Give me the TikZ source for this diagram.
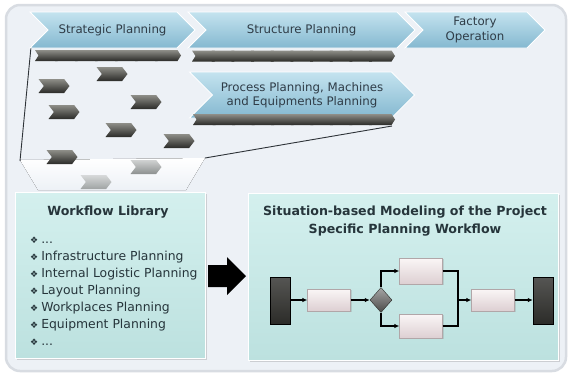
\documentclass[tikz,border=0pt]{standalone}
\usepackage{fontspec}
\setmainfont{DejaVu Sans}
\usetikzlibrary{shapes.symbols,shapes.geometric,shadows,arrows.meta}
\definecolor{panel}{HTML}{EDF1F6}
\definecolor{rim}{HTML}{D8DCE2}
\definecolor{chevtop}{HTML}{C4E3EF}
\definecolor{chevbot}{HTML}{84B8D0}
\definecolor{chevtxt}{HTML}{2F3C47}
\definecolor{tealA}{HTML}{D4F0EE}
\definecolor{tealB}{HTML}{BCE1DF}
\definecolor{boxtxt}{HTML}{26353B}
\definecolor{pinkA}{HTML}{FAF6F6}
\definecolor{pinkB}{HTML}{DDCFD2}
\definecolor{darkA}{HTML}{8E8E88}
\definecolor{darkB}{HTML}{2B2B28}
\definecolor{lightA}{HTML}{D0D2D2}
\definecolor{lightB}{HTML}{8C908F}
\definecolor{lineC}{HTML}{2E3338}
\newcommand{\bul}{{\fontsize{9}{9}\selectfont ❖}\hspace{3pt}}
\tikzset{
  chev/.style={signal, signal from=west, signal to=east, signal pointer angle=90,
    top color=chevtop, bottom color=chevbot, draw=white, line width=0.8pt,
    text=chevtxt, font=\fontsize{11.8}{14.5}\selectfont, align=center, inner sep=1pt},
  tinychev/.style={signal, signal from=west, signal to=east, signal pointer angle=105,
    minimum width=31pt, minimum height=14pt, inner sep=0pt,
    top color=darkA, bottom color=darkB, draw=none},
  palechev/.style={tinychev, top color=lightA, bottom color=lightB},
  barchev/.style={signal, signal from=west, signal to=east, signal pointer angle=115,
    minimum width=26pt, minimum height=11pt, inner sep=0pt,
    top color=darkA, bottom color=darkB, draw=none},
  bigbox/.style={rectangle, anchor=north west, top color=tealA, bottom color=tealB,
    draw=white, line width=0.6pt, drop shadow={opacity=0.3, shadow xshift=1.5pt, shadow yshift=-1.5pt}},
  boxtitle/.style={text=boxtxt, font=\bfseries\fontsize{12.6}{18}\selectfont, align=center},
  item/.style={anchor=west, text=boxtxt, font=\fontsize{12.4}{13}\selectfont, inner sep=0pt},
  wbox/.style={rectangle, top color=pinkA, bottom color=pinkB, draw=pinkB!80!black, line width=0.3pt,
    minimum width=43pt, minimum height=22pt, inner sep=0pt,
    drop shadow={opacity=0.25, shadow xshift=1pt, shadow yshift=-1pt}},
  endbar/.style={rectangle, top color=darkB!80, bottom color=darkB, draw=black,
    minimum width=20pt, minimum height=47pt, inner sep=0pt},
  flow/.style={line width=1.1pt, black, -{Latex[length=5pt,width=4.5pt]}},
  joint/.style={line width=1.1pt, black}
}
\begin{document}
\begin{tikzpicture}[x=1pt,y=-1pt]
\useasboundingbox (0,0) rectangle (572,376);
\fill[white] (0,0) rectangle (572,376);
% outer panel
\draw[rim, line width=2.5pt, fill=panel, rounded corners=14pt] (6,5) rectangle (566,371);
% floor highlight
\fill[top color=white, bottom color=panel] (20,160) -- (205,158) -- (186,190) -- (38,190) -- cycle;
% funnel lines
\coordinate (fl1) at (31,47);
\coordinate (fl2) at (20,161);
\coordinate (fr1) at (392,126);
\coordinate (fr2) at (205,158);
\draw[lineC, line width=0.9pt] (fl1) -- (fl2);
\draw[lineC, line width=0.9pt] (fr1) -- (fr2);
% scattered small chevrons
\node[tinychev] (s1) at (112,74) {};
\node[tinychev] (s2) at (54,86) {};
\node[tinychev] (s3) at (146,102) {};
\node[tinychev] (s4) at (64,112) {};
\node[tinychev] (s5) at (121,130) {};
\node[tinychev] (s6) at (179,141) {};
\node[tinychev] (s7) at (62,157) {};
\node[palechev] (s8) at (146,167) {};
\node[palechev, opacity=0.8] (s9) at (96,182) {};
% top chevrons
\node[chev, minimum width=165pt, minimum height=36pt] (sp) at (112.5,30) {Strategic Planning};
\node[chev, minimum width=227pt, minimum height=36pt] (stp) at (301.5,30) {Structure Planning};
\node[chev, minimum width=140pt, minimum height=36pt] (fo) at (475,30) {Factory\\Operation};
\node[chev, minimum width=225pt, minimum height=46pt] (pp) at (302,95) {Process Planning, Machines\\and Equipments Planning};
% dark bars
\foreach \i in {0,...,6} \node[barchev] (ba\i) at (48+\i*20,55.5) {};
\foreach \i in {0,...,9} \node[barchev] (bb\i) at (205+\i*19.67,56) {};
\foreach \i in {0,...,9} \node[barchev] (bc\i) at (206+\i*19.56,119.5) {};
% workflow library
\node[bigbox, minimum width=190pt, minimum height=166pt] (lib) at (15,192) {};
\node[boxtitle] (libt) at (108,212) {Workflow Library};
\node[item] (l1) at (30,240) {\bul ...};
\node[item] (l2) at (30,257) {\bul Infrastructure Planning};
\node[item] (l3) at (30,274) {\bul Internal Logistic Planning};
\node[item] (l4) at (30,291) {\bul Layout Planning};
\node[item] (l5) at (30,308) {\bul Workplaces Planning};
\node[item] (l6) at (30,325) {\bul Equipment Planning};
\node[item] (l7) at (30,342) {\bul ...};
% big arrow
\fill[black] (208,265) -- (227,265) -- (227,257) -- (246,276) -- (227,295) -- (227,287) -- (208,287) -- cycle;
% modeling box
\node[bigbox, minimum width=310pt, minimum height=167pt] (mod) at (248,193) {};
\node[boxtitle] (modt) at (405,221) {Situation-based Modeling of the Project\\Specific Planning Workflow};
% workflow
\node[endbar] (st) at (280,301) {};
\node[wbox] (w1) at (329,300) {};
\node[diamond, inner sep=0pt, minimum width=22pt, minimum height=25pt, top color=gray!70, bottom color=darkB!85, draw=darkB] (dia) at (381,300) {};
\node[wbox, minimum height=26pt] (w2) at (421,271) {};
\node[wbox, minimum height=24pt] (w3) at (421,326) {};
\coordinate (mg) at (458,300);
\node[wbox] (w4) at (493,300) {};
\node[endbar] (en) at (543,301) {};
\draw[flow] (st.east |- w1) -- (w1);
\draw[flow] (w1) -- (dia);
\draw[flow] (dia.north) |- (w2.west);
\draw[flow] (dia.south) |- (w3.west);
\draw[joint] (w2.east) -| (mg);
\draw[joint] (w3.east) -| (mg);
\draw[flow] (mg) -- (w4);
\draw[flow] (w4) -- (en.west |- w4);
\end{tikzpicture}
\end{document}
